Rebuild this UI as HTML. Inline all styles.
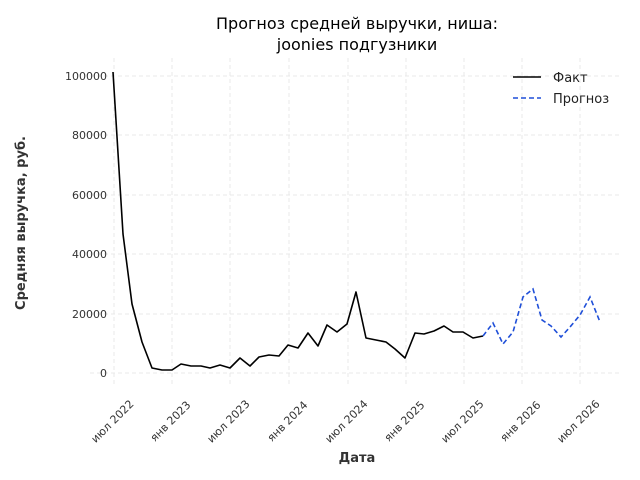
<!DOCTYPE html>
<html><head><meta charset="utf-8"><style>body{margin:0;background:#fff}svg{display:block}</style></head>
<body>
<svg width="640" height="480" xmlns="http://www.w3.org/2000/svg" font-family="DejaVu Sans, Liberation Sans, sans-serif">
<rect width="640" height="480" fill="#fff"/>
<text x="357" y="29" font-size="16" text-anchor="middle" fill="#000">Прогноз средней выручки, ниша:</text>
<text x="357" y="50" font-size="16" text-anchor="middle" fill="#000">joonies подгузники</text>
<g stroke="#e4e4e4" stroke-width="0.8" stroke-dasharray="4,3">
<line x1="90" x2="622" y1="373" y2="373"/><line x1="90" x2="622" y1="314" y2="314"/><line x1="90" x2="622" y1="254" y2="254"/><line x1="90" x2="622" y1="195" y2="195"/><line x1="90" x2="622" y1="135" y2="135"/><line x1="90" x2="622" y1="76" y2="76"/>
<line x1="114" x2="114" y1="58" y2="385"/><line x1="172" x2="172" y1="58" y2="385"/><line x1="230" x2="230" y1="58" y2="385"/><line x1="289" x2="289" y1="58" y2="385"/><line x1="348" x2="348" y1="58" y2="385"/><line x1="406" x2="406" y1="58" y2="385"/><line x1="464" x2="464" y1="58" y2="385"/><line x1="522" x2="522" y1="58" y2="385"/><line x1="580" x2="580" y1="58" y2="385"/>
</g>
<g font-size="11" fill="#333" text-anchor="end">
<text x="107" y="377">0</text><text x="107" y="318">20000</text><text x="107" y="258">40000</text><text x="107" y="199">60000</text><text x="107" y="139">80000</text><text x="107" y="80">100000</text>
</g>
<g font-size="11" fill="#333" text-anchor="middle">
<text transform="translate(115,424) rotate(-45)">июл 2022</text>
<text transform="translate(173,424) rotate(-45)">янв 2023</text>
<text transform="translate(231,424) rotate(-45)">июл 2023</text>
<text transform="translate(290,424) rotate(-45)">янв 2024</text>
<text transform="translate(349,424) rotate(-45)">июл 2024</text>
<text transform="translate(407,424) rotate(-45)">янв 2025</text>
<text transform="translate(465,424) rotate(-45)">июл 2025</text>
<text transform="translate(523,424) rotate(-45)">янв 2026</text>
<text transform="translate(581,424) rotate(-45)">июл 2026</text>
</g>
<text x="357" y="462" font-size="13" font-weight="bold" text-anchor="middle" fill="#333">Дата</text>
<text transform="translate(25,223) rotate(-90)" font-size="13" font-weight="bold" text-anchor="middle" fill="#333">Средняя выручка, руб.</text>
<polyline fill="none" stroke="#000" stroke-width="1.6" stroke-linejoin="round" points="113,72 123,234 132,304 142,342 152,368 162,370 172,370 181,364 191,366 201,366 210,368 220,365 230,368 240,358 250,366 259,357 269,355 279,356 288,345 298,348 308,333 318,346 327,325 337,332 347,324 356,292 366,338 376,340 386,342 395,349 405,358 415,333 424,334 434,331 444,326 453,332 463,332 473,338 483,336"/>
<polyline fill="none" stroke="#1f4fd8" stroke-width="1.6" stroke-dasharray="5,3" points="483,336 493,323 503,344 513,332 523,297 533,289 542,320 551,326 561,337 570,327 580,315 590,297 600,322"/>
<line x1="513" x2="541" y1="77" y2="77" stroke="#000" stroke-width="1.6"/>
<text x="553" y="82" font-size="13" fill="#222">Факт</text>
<line x1="513" x2="541" y1="98" y2="98" stroke="#1f4fd8" stroke-width="1.6" stroke-dasharray="5,3"/>
<text x="553" y="103" font-size="13" fill="#222">Прогноз</text>
</svg>
</body></html>
